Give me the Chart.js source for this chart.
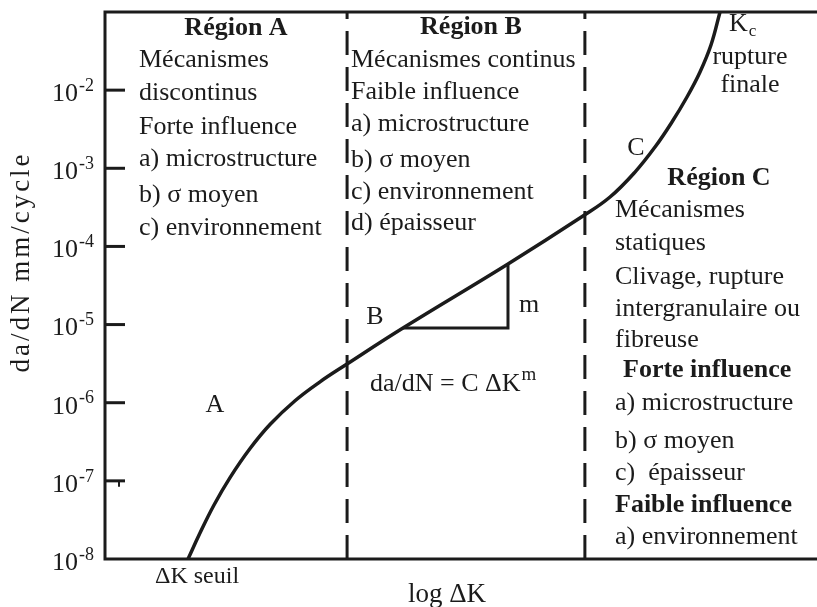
<!DOCTYPE html>
<html lang="fr">
<head>
<meta charset="utf-8">
<title>da/dN en fonction de log ΔK</title>
<script src="https://cdn.jsdelivr.net/npm/chart.js@4.4.1/dist/chart.umd.min.js"></script>
<style>
  html, body { margin: 0; padding: 0; background: #fff; }
  #wrap { width: 817px; height: 607px; position: relative; }
</style>
</head>
<body>
<div id="wrap"><canvas id="chart"></canvas></div>
<script>
/* Courbe de fissuration par fatigue: da/dN (échelle log) en fonction de log ΔK.
 * x = log ΔK en unités arbitraires, y = da/dN en mm/cycle. */

// Curve
const logDK = [1.166, 1.334, 1.531, 1.756, 2.037, 2.317, 2.669, 3.020, 3.371, 4.185, 5.660, 6.713, 7.093, 7.444, 7.725, 7.963, 8.174, 8.357, 8.511, 8.638];
const dadN = [1e-8, 2.15e-8, 4.91e-8, 1.10e-7, 2.59e-7, 5.26e-7, 1.06e-6, 1.85e-6, 3.01e-6, 9.03e-6, 5.96e-5, 2.45e-4, 4.29e-4, 8.95e-4, 1.87e-3, 3.91e-3, 8.17e-3, 1.71e-2, 3.78e-2, 1e-1];

// Slope triangle (region B): corners lie on the Paris line
const triangleX = [4.185, 5.660, 5.660];
const triangleY = [9.03e-6, 9.03e-6, 5.96e-5];

// Region boundaries (dashed) and axis range
const regionBounds = [3.40, 6.74];
const xRange = [0, 10];
const yRange = [1e-8, 1e-1];
const tickExponents = [-8, -7, -6, -5, -4, -3, -2];

// Texts
const regionA = ["Mécanismes", "discontinus", "Forte influence", "a) microstructure", "b) σ moyen", "c) environnement"];
const regionB = ["Mécanismes continus", "Faible influence", "a) microstructure", "b) σ moyen", "c) environnement", "d) épaisseur"];
const regionC = ["Mécanismes", "statiques", "Clivage, rupture", "intergranulaire ou", "fibreuse"];
const regionCStrong = ["a) microstructure", "b) σ moyen", "c)  épaisseur"];
const regionCWeak = ["a) environnement"];
const headings = ["Région A", "Région B", "Région C", "Forte influence", "Faible influence"];

const INK = "#1b1b1b";
const SERIF = '"Liberation Serif", "Times New Roman", serif';
const FS = 26;

function font(size, bold) {
  return `${bold ? "bold " : ""}${size}px ${SERIF}`;
}

function text(ctx, s, x, y, opt = {}) {
  ctx.font = font(opt.size || FS, opt.bold);
  ctx.textAlign = opt.align || "left";
  ctx.textBaseline = "middle";
  ctx.fillText(s, x, y);
}

// base text followed by a raised/lowered small run
function textWithScript(ctx, base, script, x, y, size, scriptSize, dy) {
  ctx.font = font(size);
  ctx.textAlign = "left";
  ctx.textBaseline = "middle";
  ctx.fillText(base, x, y);
  const w = ctx.measureText(base).width;
  ctx.font = font(scriptSize);
  ctx.fillText(script, x + w + 1, y + dy);
}

const lines = (ctx, arr, x, ys) => arr.forEach((s, i) => text(ctx, s, x, ys[i]));

const decorPlugin = {
  id: "decor",
  afterDraw(chart) {
    const { ctx, chartArea: a, scales } = chart;
    const ys = scales.y;
    ctx.save();
    ctx.strokeStyle = INK;
    ctx.fillStyle = INK;
    ctx.lineWidth = 3;
    ctx.lineCap = "butt";

    // frame: left, top, bottom
    ctx.beginPath();
    ctx.moveTo(a.right + 2, a.top);
    ctx.lineTo(a.left, a.top);
    ctx.lineTo(a.left, a.bottom);
    ctx.lineTo(a.right + 2, a.bottom);
    ctx.stroke();

    // inward decade ticks + labels 10^n
    tickExponents.forEach((e) => {
      const y = ys.getPixelForValue(Math.pow(10, e));
      if (e > tickExponents[0]) {
        ctx.beginPath();
        ctx.moveTo(a.left, y);
        ctx.lineTo(a.left + 20, y);
        ctx.stroke();
      }
      ctx.font = font(FS);
      const w = ctx.measureText("10").width;
      textWithScript(ctx, "10", "-" + Math.abs(e), 78 - w, y + 4, FS, 18, -8);
    });
    // small stray mark under the 10^-7 tick, as in the original print
    const y7 = ys.getPixelForValue(1e-7);
    ctx.lineWidth = 2;
    ctx.beginPath();
    ctx.moveTo(a.left + 14, y7);
    ctx.lineTo(a.left + 14, y7 + 6);
    ctx.stroke();
    ctx.lineWidth = 3;

    // axis titles
    ctx.save();
    ctx.translate(22, 262);
    ctx.rotate(-Math.PI / 2);
    ctx.letterSpacing = "3px";
    text(ctx, "da/dN mm/cycle", 0, 0, { align: "center", size: 27 });
    ctx.letterSpacing = "0px";
    ctx.restore();
    text(ctx, "log ΔK", 447, 595, { align: "center", size: 27 });
    text(ctx, "ΔK seuil", 155, 577, { size: 24 });

    // region A
    text(ctx, headings[0], 236, 28, { bold: true, align: "center" });
    lines(ctx, regionA, 139, [60, 93, 127, 159, 195, 228]);

    // region B
    text(ctx, headings[1], 471, 27, { bold: true, align: "center" });
    lines(ctx, regionB, 351, [60, 92, 124, 160, 192, 223]);

    // region C
    textWithScript(ctx, "K", "c", 729, 24, FS, 17, 8);
    text(ctx, "rupture", 750, 57, { align: "center" });
    text(ctx, "finale", 750, 85, { align: "center" });
    text(ctx, headings[2], 719, 178, { bold: true, align: "center" });
    lines(ctx, regionC, 615, [210, 243, 277, 309, 340]);
    text(ctx, headings[3], 623, 370, { bold: true });
    lines(ctx, regionCStrong, 615, [403, 441, 473]);
    text(ctx, headings[4], 615, 505, { bold: true });
    lines(ctx, regionCWeak, 615, [537]);

    // curve letters and Paris law
    text(ctx, "A", 215, 405, { align: "center" });
    text(ctx, "B", 375, 317, { align: "center" });
    text(ctx, "C", 636, 148, { align: "center" });
    text(ctx, "m", 529, 305, { align: "center" });
    textWithScript(ctx, "da/dN = C ΔK", "m", 370, 384, FS, 19, -9);

    ctx.restore();
  },
};

const pts = (xs, ys) => xs.map((x, i) => ({ x, y: ys[i] }));
const vline = (x) => [{ x, y: yRange[0] }, { x, y: yRange[1] }];

new Chart(document.getElementById("chart"), {
  type: "line",
  data: {
    datasets: [
      {
        data: pts(logDK, dadN),
        borderColor: INK,
        borderWidth: 3.5,
        pointRadius: 0,
        tension: 0.4,
        fill: false,
      },
      {
        data: pts(triangleX, triangleY),
        borderColor: INK,
        borderWidth: 3,
        pointRadius: 0,
        tension: 0,
        fill: false,
      },
      ...regionBounds.map((x) => ({
        data: vline(x),
        borderColor: INK,
        borderWidth: 3,
        borderDash: [24, 12],
        pointRadius: 0,
        fill: false,
      })),
    ],
  },
  options: {
    responsive: true,
    maintainAspectRatio: false,
    animation: false,
    layout: { padding: { left: 105, top: 12, right: 0, bottom: 48 } },
    plugins: { legend: { display: false }, tooltip: { enabled: false } },
    scales: {
      x: { type: "linear", min: xRange[0], max: xRange[1], display: false },
      y: { type: "logarithmic", min: yRange[0], max: yRange[1], display: false },
    },
  },
  plugins: [decorPlugin],
});
</script>
</body>
</html>
